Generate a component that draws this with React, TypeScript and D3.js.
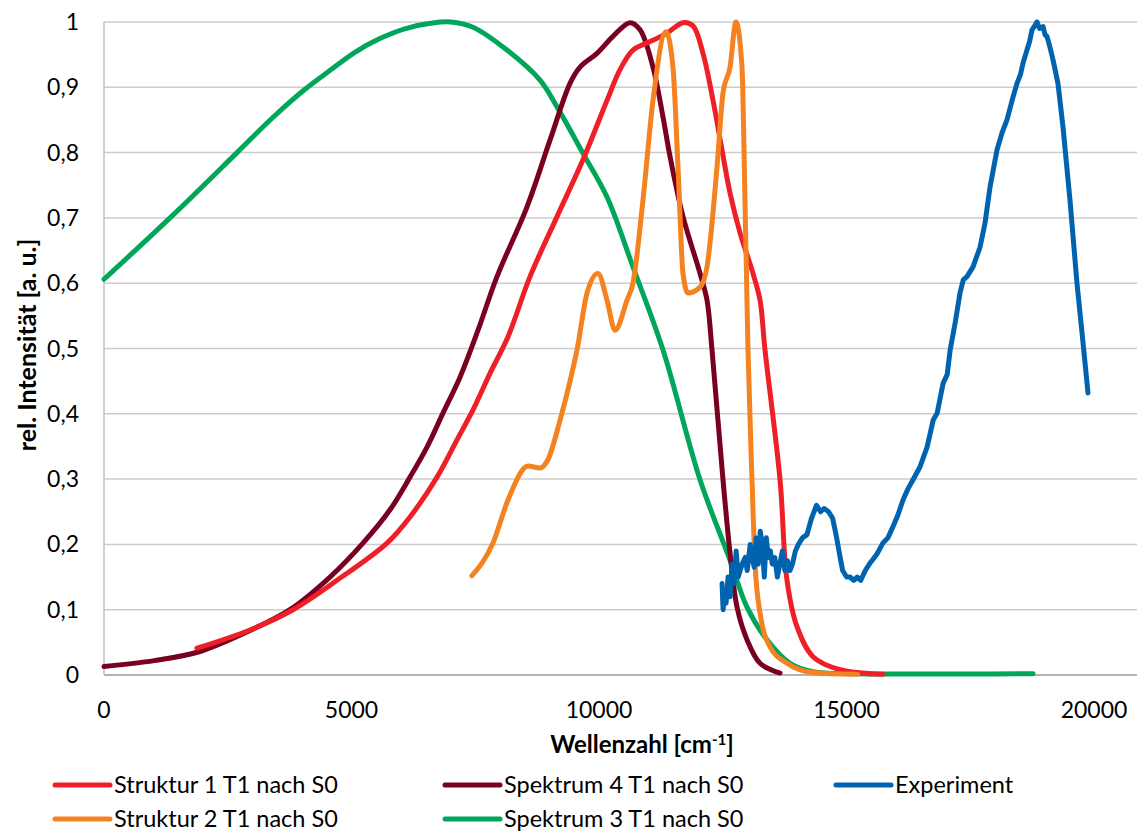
import React from "react";
import * as d3 from "d3";

const width = 1137;
const height = 832;
const plot = { left: 104, right: 1137, top: 22, bottom: 675 };
const xMax20000 = 1094; // pixel of 20000

type Pt = [number, number];

// Struktur 1 T1 nach S0
const struktur1: Pt[] = [
  [1878, 0.041], [2949, 0.069], [3818, 0.1], [4707, 0.145], [5717, 0.202], [6182, 0.242],
  [6727, 0.303], [7131, 0.36], [7454, 0.406], [7798, 0.462], [8162, 0.518], [8606, 0.61],
  [9152, 0.702], [9676, 0.789], [10162, 0.88], [10425, 0.927], [10686, 0.957], [11031, 0.97],
  [11374, 0.983], [11697, 0.999], [11899, 0.994], [12101, 0.952], [12303, 0.88], [12485, 0.804],
  [12647, 0.738], [12849, 0.677], [13111, 0.615], [13253, 0.574], [13353, 0.498], [13657, 0.299],
  [13798, 0.145], [14000, 0.074], [14323, 0.028], [14869, 0.008], [15735, 0.001],
];

// Struktur 2 T1 nach S0
const struktur2: Pt[] = [
  [7434, 0.152], [7858, 0.202], [8162, 0.268], [8566, 0.32], [8808, 0.317], [8970, 0.33],
  [9212, 0.39], [9415, 0.45], [9556, 0.498], [9758, 0.585], [9980, 0.615], [10162, 0.574],
  [10323, 0.528], [10566, 0.574], [10686, 0.6], [10888, 0.727], [11091, 0.88], [11353, 0.985],
  [11494, 0.931], [11596, 0.778], [11697, 0.615], [11798, 0.585], [12041, 0.594], [12182, 0.625],
  [12384, 0.778], [12505, 0.891], [12647, 0.931], [12767, 1.0], [12889, 0.931], [12949, 0.727],
  [13010, 0.498], [13091, 0.299], [13151, 0.172], [13253, 0.095], [13455, 0.043], [13798, 0.018],
  [14314, 0.004], [15227, 0.001],
];

// Spektrum 4 T1 nach S0
const spektrum4: Pt[] = [
  [0, 0.013], [1015, 0.022], [1939, 0.036], [2949, 0.068], [3756, 0.1], [4565, 0.15],
  [5232, 0.202], [5778, 0.253], [6182, 0.303], [6525, 0.349], [6848, 0.401], [7192, 0.456],
  [7556, 0.528], [7939, 0.61], [8546, 0.717], [9010, 0.819], [9414, 0.906], [9616, 0.931],
  [9960, 0.952], [10282, 0.978], [10627, 0.999], [10829, 0.988], [11090, 0.931], [11292, 0.855],
  [11435, 0.794], [11697, 0.702], [12041, 0.615], [12182, 0.574], [12283, 0.498], [12505, 0.299],
  [12647, 0.187], [12788, 0.104], [12990, 0.054], [13253, 0.018], [13657, 0.003],
];

// Spektrum 3 T1 nach S0
const spektrum3: Pt[] = [
  [0, 0.606], [1333, 0.7], [2687, 0.8], [3400, 0.853], [4060, 0.897], [4568, 0.926],
  [5076, 0.954], [5583, 0.975], [6091, 0.99], [6598, 0.998], [7005, 1.0], [7454, 0.992],
  [8141, 0.957], [8808, 0.911], [9152, 0.87], [9676, 0.799], [10162, 0.732], [10686, 0.625],
  [11292, 0.498], [12041, 0.299], [12647, 0.176], [12990, 0.104], [13394, 0.054], [13859, 0.018],
  [14323, 0.005], [15227, 0.002], [18768, 0.002],
];

// Experiment
const experiment: Pt[] = [
  [12486, 0.14], [12507, 0.1], [12537, 0.13], [12567, 0.11], [12608, 0.15], [12649, 0.12],
  [12689, 0.17], [12730, 0.14], [12771, 0.19], [12811, 0.15], [12852, 0.16], [12892, 0.17],
  [12953, 0.18], [12994, 0.16], [13055, 0.2], [13095, 0.18], [13136, 0.165], [13177, 0.21],
  [13217, 0.17], [13258, 0.22], [13298, 0.2], [13339, 0.15], [13380, 0.21], [13420, 0.18],
  [13461, 0.19], [13501, 0.17], [13552, 0.18], [13603, 0.15], [13654, 0.17], [13705, 0.19],
  [13755, 0.16], [13806, 0.175], [13857, 0.16], [13908, 0.17], [13968, 0.19], [14029, 0.2],
  [14110, 0.21], [14202, 0.215], [14293, 0.24], [14395, 0.26], [14476, 0.25], [14547, 0.255],
  [14638, 0.25], [14720, 0.24], [14801, 0.21], [14872, 0.18], [14922, 0.16], [15003, 0.15],
  [15075, 0.15], [15146, 0.145], [15217, 0.15], [15288, 0.145], [15380, 0.16], [15481, 0.172],
  [15613, 0.185], [15735, 0.202], [15836, 0.21], [15938, 0.227], [16039, 0.245], [16141, 0.268],
  [16242, 0.285], [16344, 0.299], [16486, 0.319], [16628, 0.349], [16750, 0.39], [16831, 0.401],
  [16953, 0.447], [17034, 0.46], [17095, 0.498], [17197, 0.54], [17293, 0.585], [17359, 0.605],
  [17434, 0.61], [17556, 0.625], [17697, 0.655], [17798, 0.692], [17899, 0.747], [17968, 0.775],
  [18040, 0.804], [18141, 0.83], [18242, 0.85], [18364, 0.885], [18444, 0.906], [18516, 0.92],
  [18566, 0.937], [18646, 0.957], [18699, 0.97], [18748, 0.988], [18811, 0.995], [18848, 1.0],
  [18902, 0.99], [18970, 0.993], [19014, 0.98], [19050, 0.978], [19115, 0.96], [19172, 0.942],
  [19272, 0.906], [19374, 0.839], [19515, 0.727], [19656, 0.6], [19758, 0.524], [19879, 0.432],
];

const xTicks = [0, 5000, 10000, 15000, 20000];
const yTicks = [0, 0.1, 0.2, 0.3, 0.4, 0.5, 0.6, 0.7, 0.8, 0.9, 1];

type Curve = "smooth" | "monotone" | "raw";
const series: { name: string; data: Pt[]; color: string; curve: Curve }[] = [
  { name: "Struktur 1 T1 nach S0", data: struktur1, color: "#ee1f26", curve: "smooth" },
  { name: "Struktur 2 T1 nach S0", data: struktur2, color: "#f58220", curve: "monotone" },
  { name: "Spektrum 4 T1 nach S0", data: spektrum4, color: "#7a0021", curve: "smooth" },
  { name: "Spektrum 3 T1 nach S0", data: spektrum3, color: "#00a65a", curve: "smooth" },
  { name: "Experiment", data: experiment, color: "#0063b0", curve: "raw" },
];

// draw order (back to front) as in the reference
const drawOrder = [3, 2, 0, 1, 4];

const legendItems = [
  { s: 0, col: 0, row: 0 },
  { s: 2, col: 1, row: 0 },
  { s: 4, col: 2, row: 0 },
  { s: 1, col: 0, row: 1 },
  { s: 3, col: 1, row: 1 },
];
const legendCols = [55, 445, 836];
const legendRows = [785, 819];

const font = "Lato, 'Open Sans', sans-serif";

export default function App() {
  const x = d3.scaleLinear().domain([0, 20000]).range([plot.left, xMax20000]);
  const y = d3.scaleLinear().domain([0, 1]).range([plot.bottom, plot.top]);
  const fmt = (v: number) => (v === 0 || v === 1 ? String(v) : d3.format(".1f")(v).replace(".", ","));

  const makeLine = (c: Curve) =>
    d3
      .line<Pt>()
      .x((d) => x(d[0]))
      .y((d) => y(d[1]))
      .curve(c === "smooth" ? d3.curveCatmullRom.alpha(0.5) : c === "monotone" ? d3.curveMonotoneX : d3.curveLinear);

  return (
    <svg
      width={width}
      height={height}
      style={{ position: "absolute", left: 0, top: 0, background: "#fff" }}
      fontFamily={font}
    >
      {yTicks.map((t) => (
        <line
          key={"g" + t}
          x1={plot.left}
          x2={plot.right}
          y1={y(t)}
          y2={y(t)}
          stroke={t === 0 ? "#b3b3b3" : "#cccccc"}
          strokeWidth={t === 0 ? 2 : 1.5}
        />
      ))}
      <line x1={plot.left} x2={plot.left} y1={plot.top} y2={plot.bottom} stroke="#bfbfbf" strokeWidth={1.5} />

      {yTicks.map((t) => (
        <text key={"yl" + t} x={79} y={y(t) + 8} textAnchor="end" fontSize={23} fill="#000">
          {fmt(t)}
        </text>
      ))}
      {xTicks.map((t) => (
        <text key={"xl" + t} x={x(t)} y={718} textAnchor="middle" fontSize={23} fill="#000">
          {t}
        </text>
      ))}

      <text x={642} y={753} textAnchor="middle" fontSize={24} fontWeight="bold" fill="#000">
        Wellenzahl [cm
        <tspan dy={-8} fontSize={15}>-1</tspan>
        <tspan dy={8}>]</tspan>
      </text>
      <text
        transform={`translate(36,345) rotate(-90)`}
        textAnchor="middle"
        fontSize={25}
        fontWeight="bold"
        fill="#000"
      >
        rel. Intensität [a. u.]
      </text>

      {drawOrder.map((i) => {
        const s = series[i];
        return (
          <path
            key={s.name}
            d={makeLine(s.curve)(s.data) || ""}
            fill="none"
            stroke={s.color}
            strokeWidth={5}
            strokeLinecap="round"
            strokeLinejoin="round"
          />
        );
      })}

      {legendItems.map((it) => {
        const s = series[it.s];
        const lx = legendCols[it.col];
        const ly = legendRows[it.row];
        return (
          <g key={"lg" + s.name}>
            <line x1={lx} x2={lx + 55} y1={ly} y2={ly} stroke={s.color} strokeWidth={5} strokeLinecap="round" />
            <text x={lx + 59} y={ly + 8} fontSize={23.5} fill="#000">
              {s.name}
            </text>
          </g>
        );
      })}
    </svg>
  );
}
